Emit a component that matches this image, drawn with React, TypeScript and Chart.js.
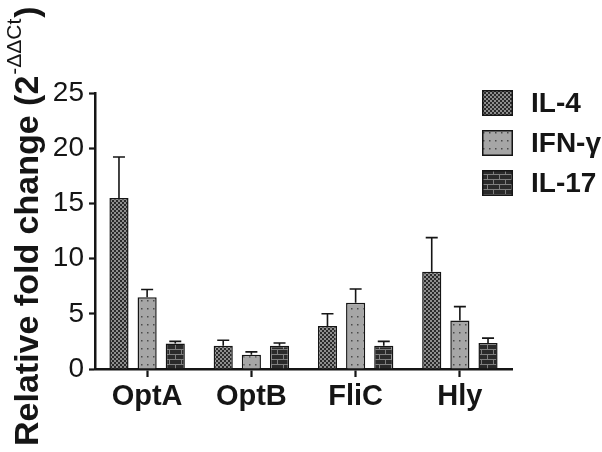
import React, { useEffect, useRef } from "react";
import { Chart, registerables } from "chart.js";

Chart.register(...registerables);

const categories = ["OptA", "OptB", "FliC", "Hly"];
const seriesNames = ["IL-4", "IFN-γ", "IL-17"];
const il4 = [15.5, 2.1, 3.9, 8.8];
const il4Err = [3.7, 0.5, 1.1, 3.1];
const ifn = [6.5, 1.3, 6.0, 4.4];
const ifnErr = [0.7, 0.25, 1.25, 1.25];
const il17 = [2.3, 2.1, 2.1, 2.35];
const il17Err = [0.2, 0.25, 0.4, 0.45];
const yTicks = [0, 5, 10, 15, 20, 25];

const FONT = '"Liberation Sans", Arial, Helvetica, sans-serif';
const INK = "#151515";

function makePattern(kind: string): CanvasPattern | string {
  const c = document.createElement("canvas");
  const g = c.getContext("2d");
  if (!g) return "#777";
  if (kind === "check") {
    c.width = 4;
    c.height = 4;
    g.fillStyle = "#8e8e8e";
    g.fillRect(0, 0, 4, 4);
    g.fillStyle = "#2a2a2a";
    g.fillRect(0, 0, 2, 2);
    g.fillRect(2, 2, 2, 2);
  } else if (kind === "dots") {
    c.width = 6;
    c.height = 8;
    g.fillStyle = "#a6a6a6";
    g.fillRect(0, 0, 6, 8);
    g.fillStyle = "#4a4a4a";
    g.fillRect(3, 4, 1.5, 1.5);
  } else {
    c.width = 12;
    c.height = 10;
    g.fillStyle = "#2a2a2a";
    g.fillRect(0, 0, 12, 10);
    g.fillStyle = "#7e7e7e";
    g.fillRect(0, 4, 12, 1);
    g.fillRect(0, 9, 12, 1);
    g.fillRect(1, 0, 1, 4);
    g.fillRect(7, 5, 1, 4);
  }
  return g.createPattern(c, "repeat") || "#777";
}

export default function App() {
  const ref = useRef<HTMLCanvasElement | null>(null);

  useEffect(() => {
    document.body.style.margin = "0";
    const canvas = ref.current;
    if (!canvas) return;
    const fills = [makePattern("check"), makePattern("dots"), makePattern("brick")];
    const values = [il4, ifn, il17];
    const errors = [il4Err, ifnErr, il17Err];

    const errorBars = {
      id: "errorBars",
      afterDatasetsDraw(chart: any) {
        const ctx = chart.ctx;
        const y = chart.scales.y;
        ctx.save();
        ctx.strokeStyle = INK;
        ctx.lineWidth = 1.6;
        chart.data.datasets.forEach((ds: any, di: number) => {
          const meta = chart.getDatasetMeta(di);
          meta.data.forEach((el: any, i: number) => {
            const top = y.getPixelForValue(values[di][i] + errors[di][i]);
            ctx.beginPath();
            ctx.moveTo(el.x, el.y);
            ctx.lineTo(el.x, top);
            ctx.moveTo(el.x - 6, top);
            ctx.lineTo(el.x + 6, top);
            ctx.stroke();
          });
        });
        ctx.restore();
      },
    };

    const decorations = {
      id: "decorations",
      afterDraw(chart: any) {
        const ctx = chart.ctx;
        ctx.save();
        // y-axis title with superscript
        ctx.translate(38, 446);
        ctx.rotate(-Math.PI / 2);
        ctx.fillStyle = INK;
        ctx.textBaseline = "alphabetic";
        ctx.textAlign = "left";
        ctx.font = `bold 34px ${FONT}`;
        const main = "Relative fold change (2";
        ctx.fillText(main, 0, 0);
        let w = ctx.measureText(main).width + 1;
        ctx.font = `21px ${FONT}`;
        const sup = "-ΔΔCt";
        ctx.fillText(sup, w, -17);
        w += ctx.measureText(sup).width + 1;
        ctx.font = `bold 34px ${FONT}`;
        ctx.fillText(")", w, 0);
        ctx.restore();

        // legend
        ctx.save();
        const boxX = 482;
        const boxW = 31;
        const boxH = 26;
        const ys = [90, 130, 170];
        seriesNames.forEach((name, i) => {
          ctx.fillStyle = fills[i] as any;
          ctx.fillRect(boxX, ys[i], boxW, boxH);
          ctx.strokeStyle = INK;
          ctx.lineWidth = 1.5;
          ctx.strokeRect(boxX + 0.75, ys[i] + 0.75, boxW - 1.5, boxH - 1.5);
          ctx.fillStyle = INK;
          ctx.font = `bold 28px ${FONT}`;
          ctx.textBaseline = "middle";
          ctx.textAlign = "left";
          ctx.fillText(name, 531, ys[i] + boxH / 2 + 1);
        });
        ctx.restore();
      },
    };

    const chart = new Chart(canvas, {
      type: "bar",
      data: {
        labels: categories,
        datasets: seriesNames.map((name, i) => ({
          label: name,
          data: values[i],
          backgroundColor: fills[i] as any,
          borderColor: INK,
          borderWidth: 1.5,
          barPercentage: 0.68,
          categoryPercentage: 0.81,
        })),
      },
      options: {
        responsive: false,
        animation: false,
        devicePixelRatio: 1,
        layout: { padding: { top: 93, right: 90, left: 0, bottom: 0 } },
        plugins: {
          legend: { display: false },
          tooltip: { enabled: false },
          title: { display: false },
        },
        scales: {
          x: {
            offset: true,
            grid: {
              offset: false,
              drawOnChartArea: false,
              drawTicks: true,
              tickLength: 8,
              tickWidth: 2.2,
              tickColor: INK,
            },
            border: { color: INK, width: 2.5 },
            ticks: {
              color: INK,
              padding: 3,
              font: { family: FONT, size: 29, weight: "bold" },
              maxRotation: 0,
            },
            afterFit(s: any) {
              s.height = 83;
            },
          },
          y: {
            min: 0,
            max: 25,
            afterBuildTicks(s: any) {
              s.ticks = yTicks.map((v) => ({ value: v }));
            },
            grid: {
              drawOnChartArea: false,
              drawTicks: true,
              tickLength: 6,
              tickWidth: 2.2,
              tickColor: INK,
            },
            border: { color: INK, width: 2.5 },
            ticks: {
              color: INK,
              padding: 5,
              font: { family: FONT, size: 28 },
            },
            afterFit(s: any) {
              s.width = 95;
            },
          },
        },
      },
      plugins: [errorBars, decorations],
    });
    return () => chart.destroy();
  }, []);

  return (
    <div style={{ width: 602, height: 452, background: "#fff" }}>
      <canvas ref={ref} width={602} height={452} style={{ display: "block" }} />
    </div>
  );
}
